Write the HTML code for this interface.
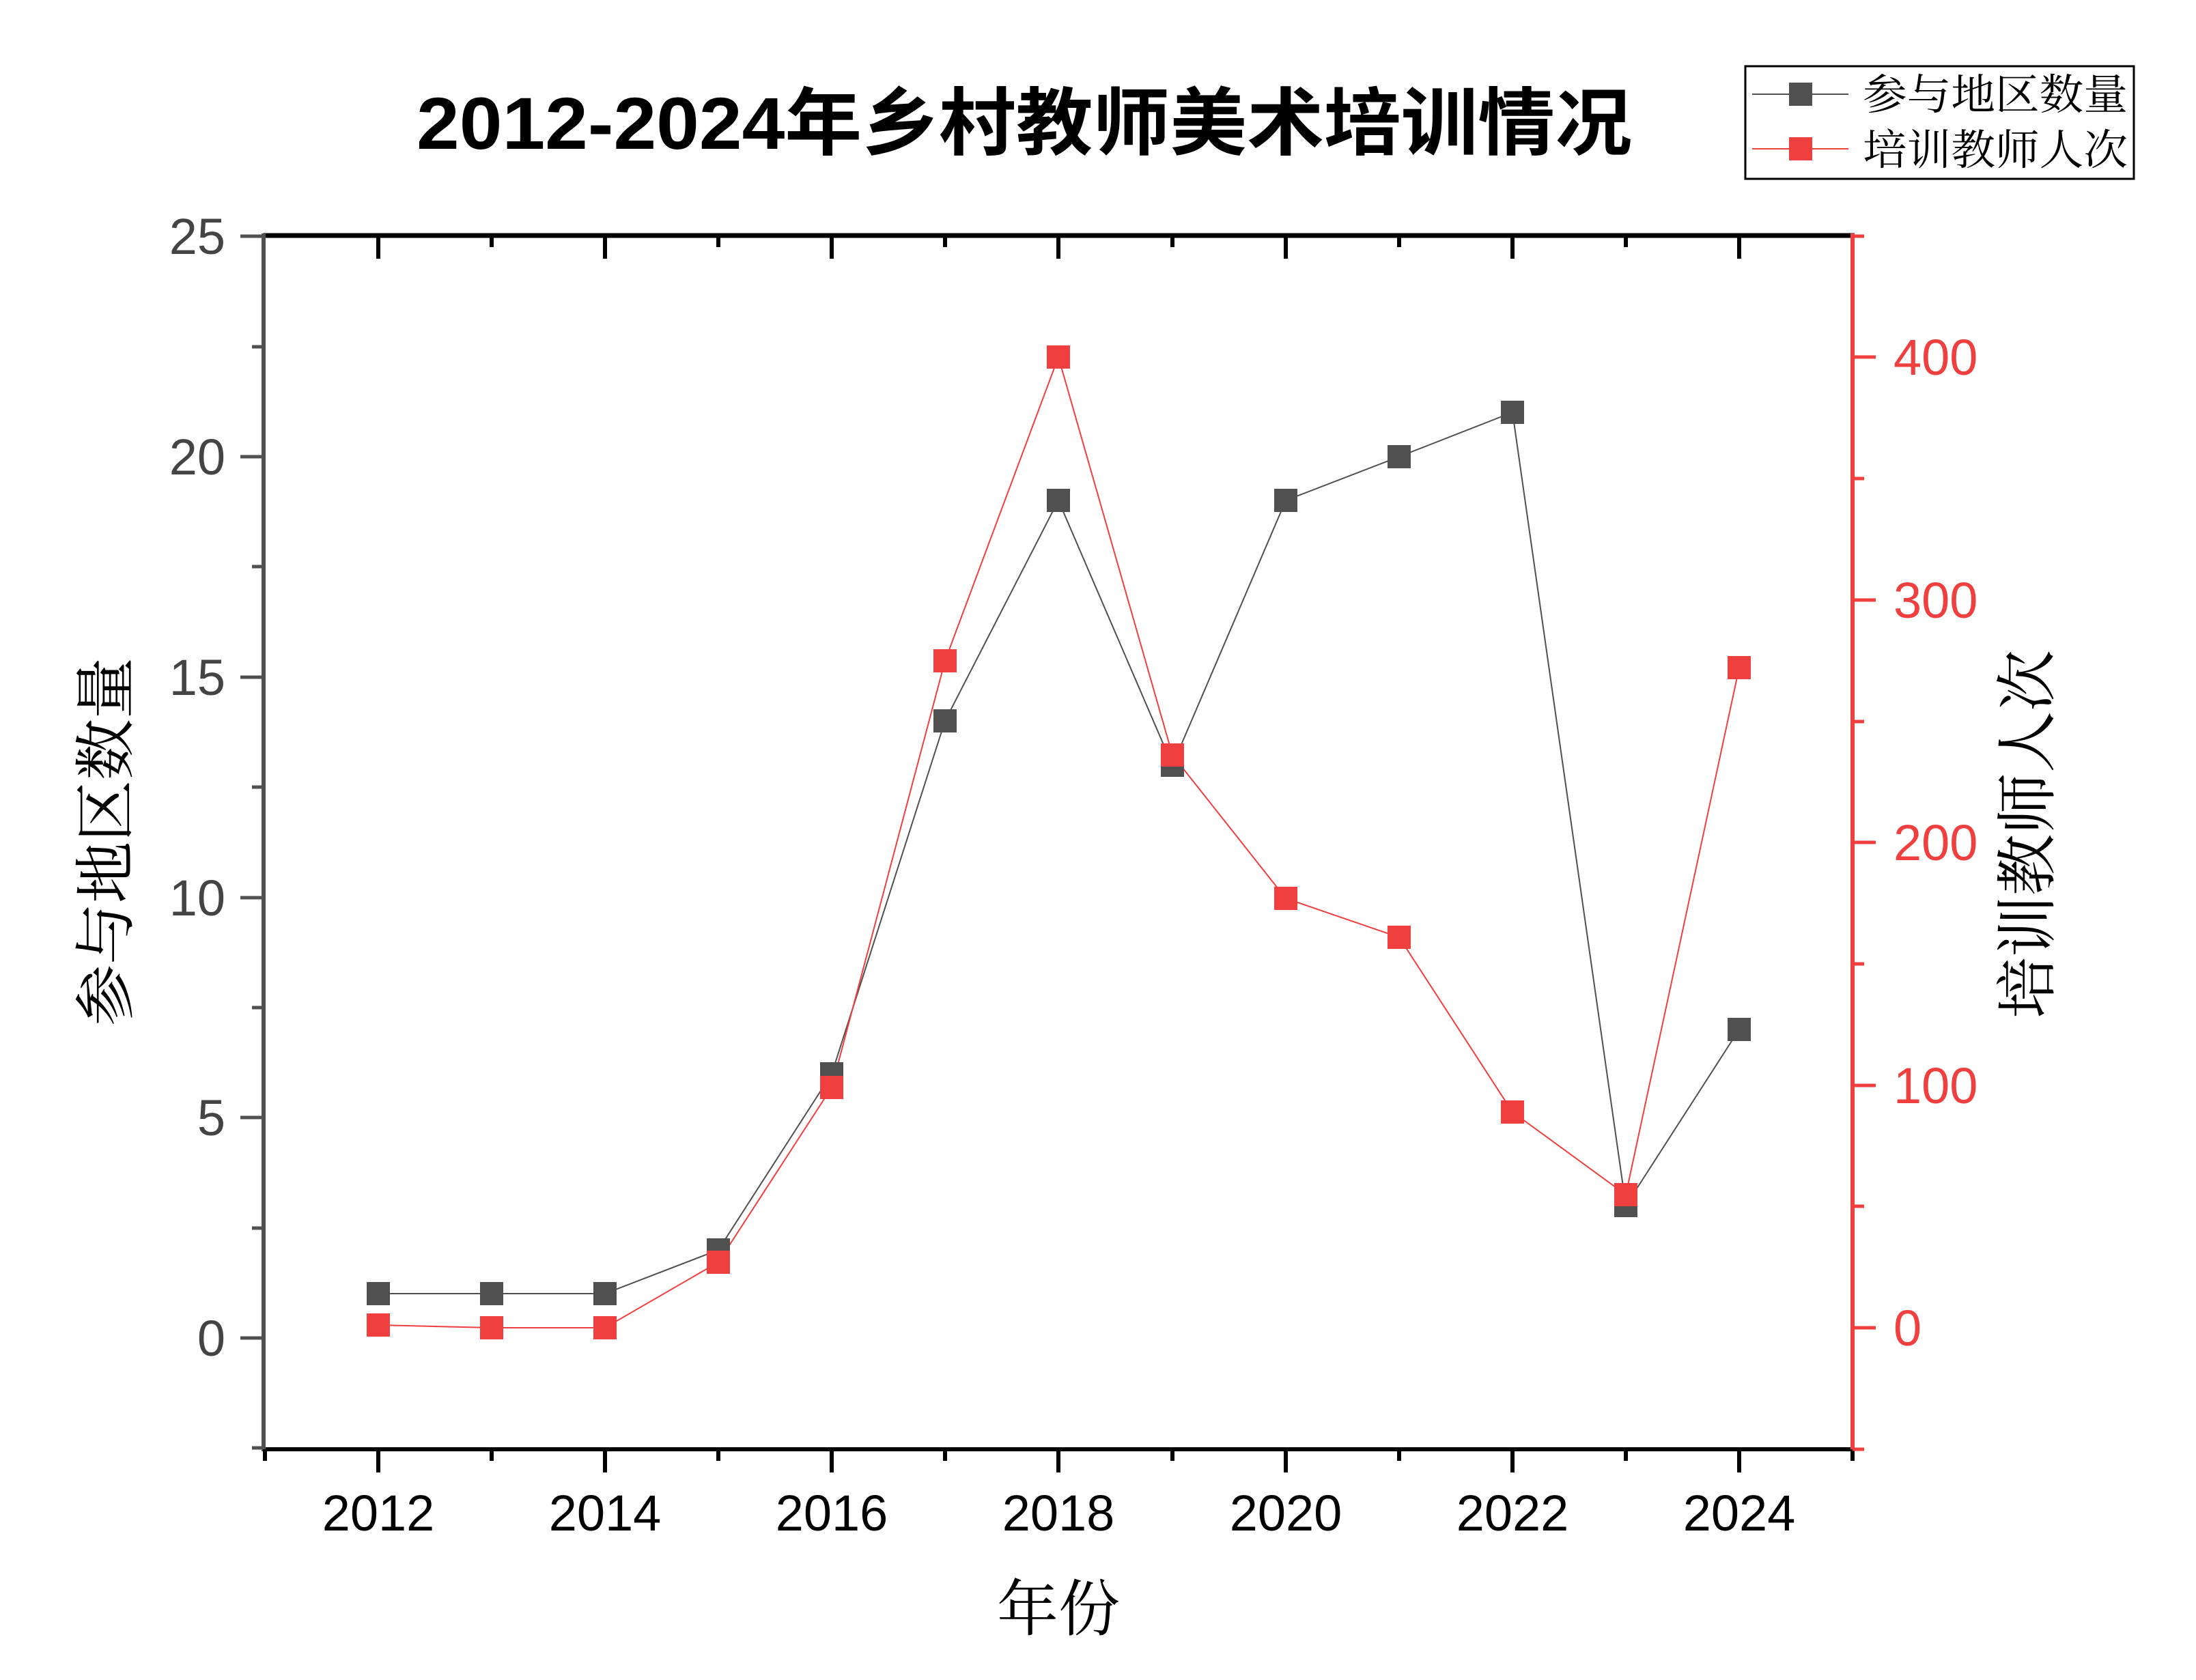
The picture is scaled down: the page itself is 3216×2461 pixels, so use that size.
<!DOCTYPE html>
<html><head><meta charset="utf-8"><style>
html,body{margin:0;padding:0;background:#fff;}
svg{display:block;}
</style></head><body>
<svg width="3216" height="2461" viewBox="0 0 3216 2461" xmlns="http://www.w3.org/2000/svg">
<rect width="3216" height="2461" fill="#fff"/>
<!-- title -->
<text x="1500" y="218" text-anchor="middle" font-family="Liberation Sans, Noto Sans CJK SC, sans-serif" font-weight="bold" font-size="108" textLength="1780" lengthAdjust="spacingAndGlyphs" fill="#000">2012-2024年乡村教师美术培训情况</text>
<!-- legend -->
<rect x="2556" y="97" width="569" height="165" fill="#fff" stroke="#000" stroke-width="3"/>
<line x1="2566" y1="138" x2="2707" y2="138" stroke="#505050" stroke-width="2"/>
<rect x="2620" y="121" width="34" height="34" fill="#505050"/>
<line x1="2566" y1="218" x2="2707" y2="218" stroke="#ef3f3f" stroke-width="2"/>
<rect x="2620" y="201" width="34" height="34" fill="#ef3f3f"/>
<text x="2728" y="160" font-family="Noto Serif CJK SC, serif" font-size="62" textLength="388" lengthAdjust="spacingAndGlyphs" fill="#000">参与地区数量</text>
<text x="2728" y="241" font-family="Noto Serif CJK SC, serif" font-size="62" textLength="388" lengthAdjust="spacingAndGlyphs" fill="#000">培训教师人次</text>

<!-- axes -->
<line x1="385" y1="345" x2="2716" y2="345" stroke="#000" stroke-width="7"/>
<line x1="385" y1="2123" x2="2716" y2="2123" stroke="#000" stroke-width="6"/>
<line x1="386" y1="342" x2="386" y2="2126" stroke="#505050" stroke-width="6"/>
<line x1="2713" y1="342" x2="2713" y2="2126" stroke="#ef3f3f" stroke-width="6"/>

<g stroke="#000" stroke-width="6">
<!-- top ticks inward -->
<line x1="554" y1="345" x2="554" y2="379"/><line x1="886" y1="345" x2="886" y2="379"/><line x1="1218" y1="345" x2="1218" y2="379"/><line x1="1550" y1="345" x2="1550" y2="379"/><line x1="1883" y1="345" x2="1883" y2="379"/><line x1="2215" y1="345" x2="2215" y2="379"/><line x1="2547" y1="345" x2="2547" y2="379"/>
<line x1="720" y1="345" x2="720" y2="362"/><line x1="1052" y1="345" x2="1052" y2="362"/><line x1="1384" y1="345" x2="1384" y2="362"/><line x1="1717" y1="345" x2="1717" y2="362"/><line x1="2049" y1="345" x2="2049" y2="362"/><line x1="2381" y1="345" x2="2381" y2="362"/>
<!-- bottom ticks outward -->
<line x1="554" y1="2123" x2="554" y2="2157"/><line x1="886" y1="2123" x2="886" y2="2157"/><line x1="1218" y1="2123" x2="1218" y2="2157"/><line x1="1550" y1="2123" x2="1550" y2="2157"/><line x1="1883" y1="2123" x2="1883" y2="2157"/><line x1="2215" y1="2123" x2="2215" y2="2157"/><line x1="2547" y1="2123" x2="2547" y2="2157"/>
<line x1="388" y1="2123" x2="388" y2="2140"/><line x1="720" y1="2123" x2="720" y2="2140"/><line x1="1052" y1="2123" x2="1052" y2="2140"/><line x1="1384" y1="2123" x2="1384" y2="2140"/><line x1="1717" y1="2123" x2="1717" y2="2140"/><line x1="2049" y1="2123" x2="2049" y2="2140"/><line x1="2381" y1="2123" x2="2381" y2="2140"/><line x1="2713" y1="2123" x2="2713" y2="2140"/>
</g>
<g stroke="#505050" stroke-width="5">
<line x1="352" y1="1960" x2="386" y2="1960"/><line x1="352" y1="1637" x2="386" y2="1637"/><line x1="352" y1="1315" x2="386" y2="1315"/><line x1="352" y1="992" x2="386" y2="992"/><line x1="352" y1="669" x2="386" y2="669"/><line x1="352" y1="346" x2="386" y2="346"/>
<line x1="369" y1="2121" x2="386" y2="2121"/><line x1="369" y1="1799" x2="386" y2="1799"/><line x1="369" y1="1476" x2="386" y2="1476"/><line x1="369" y1="1153" x2="386" y2="1153"/><line x1="369" y1="830" x2="386" y2="830"/><line x1="369" y1="508" x2="386" y2="508"/>
</g>
<g stroke="#ef3f3f" stroke-width="5">
<line x1="2713" y1="1945" x2="2747" y2="1945"/><line x1="2713" y1="1590" x2="2747" y2="1590"/><line x1="2713" y1="1234" x2="2747" y2="1234"/><line x1="2713" y1="879" x2="2747" y2="879"/><line x1="2713" y1="523" x2="2747" y2="523"/>
<line x1="2713" y1="2123" x2="2730" y2="2123"/><line x1="2713" y1="1767" x2="2730" y2="1767"/><line x1="2713" y1="1412" x2="2730" y2="1412"/><line x1="2713" y1="1057" x2="2730" y2="1057"/><line x1="2713" y1="701" x2="2730" y2="701"/><line x1="2713" y1="346" x2="2730" y2="346"/>
</g>

<!-- tick labels -->
<g font-family="Liberation Sans, sans-serif" font-size="74" fill="#444" text-anchor="end">
<text x="330" y="1986">0</text><text x="330" y="1663">5</text><text x="330" y="1341">10</text><text x="330" y="1018">15</text><text x="330" y="695">20</text><text x="330" y="372">25</text>
</g>
<g font-family="Liberation Sans, sans-serif" font-size="74" fill="#ef3f3f" text-anchor="start">
<text x="2773" y="1971">0</text><text x="2773" y="1616">100</text><text x="2773" y="1260">200</text><text x="2773" y="905">300</text><text x="2773" y="549">400</text>
</g>
<g font-family="Liberation Sans, sans-serif" font-size="74" fill="#000" text-anchor="middle">
<text x="554" y="2242">2012</text><text x="886" y="2242">2014</text><text x="1218" y="2242">2016</text><text x="1550" y="2242">2018</text><text x="1883" y="2242">2020</text><text x="2215" y="2242">2022</text><text x="2547" y="2242">2024</text>
</g>

<!-- axis titles -->
<text x="1550" y="2388" text-anchor="middle" font-family="Noto Serif CJK SC, serif" font-size="90" fill="#000">年份</text>
<text transform="translate(186,1233) rotate(-90)" text-anchor="middle" font-family="Noto Serif CJK SC, serif" font-size="90" fill="#000">参与地区数量</text>
<text transform="translate(3000,1222) rotate(-90)" text-anchor="middle" font-family="Noto Serif CJK SC, serif" font-size="90" fill="#000">培训教师人次</text>

<!-- series -->
<polyline fill="none" stroke="#505050" stroke-width="2" points="554,1895 720,1895 886,1895 1052,1831 1218,1573 1384,1056 1550,733 1717,1121 1883,733 2049,669 2215,604 2381,1766 2547,1508"/>
<polyline fill="none" stroke="#ef3f3f" stroke-width="2" points="554,1941 720,1945 886,1945 1052,1849 1218,1593 1384,968 1550,523 1717,1106 1883,1316 2049,1373 2215,1629 2381,1750 2547,978"/>
<g fill="#505050">
<rect x="537" y="1878" width="34" height="34"/><rect x="703" y="1878" width="34" height="34"/><rect x="869" y="1878" width="34" height="34"/><rect x="1035" y="1814" width="34" height="34"/><rect x="1201" y="1556" width="34" height="34"/><rect x="1367" y="1039" width="34" height="34"/><rect x="1533" y="716" width="34" height="34"/><rect x="1700" y="1104" width="34" height="34"/><rect x="1866" y="716" width="34" height="34"/><rect x="2032" y="652" width="34" height="34"/><rect x="2198" y="587" width="34" height="34"/><rect x="2364" y="1749" width="34" height="34"/><rect x="2530" y="1491" width="34" height="34"/>
</g>
<g fill="#ef3f3f">
<rect x="537" y="1924" width="34" height="34"/><rect x="703" y="1928" width="34" height="34"/><rect x="869" y="1928" width="34" height="34"/><rect x="1035" y="1832" width="34" height="34"/><rect x="1201" y="1576" width="34" height="34"/><rect x="1367" y="951" width="34" height="34"/><rect x="1533" y="506" width="34" height="34"/><rect x="1700" y="1089" width="34" height="34"/><rect x="1866" y="1299" width="34" height="34"/><rect x="2032" y="1356" width="34" height="34"/><rect x="2198" y="1612" width="34" height="34"/><rect x="2364" y="1733" width="34" height="34"/><rect x="2530" y="961" width="34" height="34"/>
</g>
</svg>
</body></html>
